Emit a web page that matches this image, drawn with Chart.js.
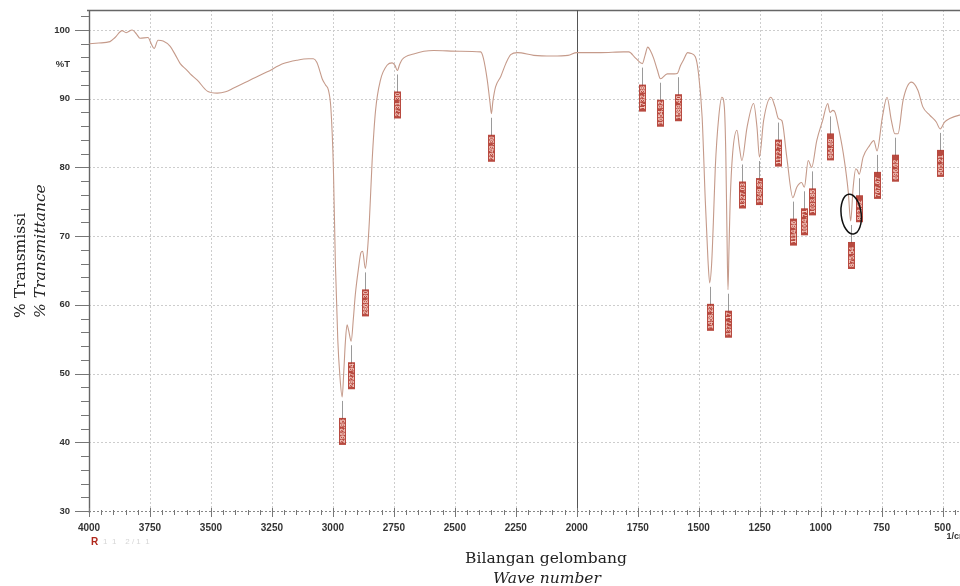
<!DOCTYPE html>
<html>
<head>
<meta charset="utf-8">
<script src="https://cdn.jsdelivr.net/npm/chart.js@4"></script>
<style>
  html, body { margin: 0; padding: 0; background: #fff; overflow: hidden; }
  #wrap { width: 1000px; height: 586px; }
</style>
</head>
<body>
<div id="wrap"><canvas id="ir" width="1000" height="586"></canvas></div>
<script>
"use strict";

// spectrum trace (wavenumber in 1/cm, %T)
const wavenumber = [
  3998, 3960, 3914, 3893, 3864, 3848, 3823, 3805, 3791, 3758, 3745, 3733, 3717, 3696, 3667,
  3645, 3626, 3600, 3585, 3556, 3515, 3474, 3440, 3409, 3339, 3269, 3203, 3146, 3100, 3080,
  3066, 3056, 3044, 3030, 3018, 3008, 2998, 2990, 2980, 2972, 2962, 2955, 2949, 2942, 2935,
  2925, 2916, 2908, 2895, 2885, 2878, 2867, 2858, 2850, 2839, 2825, 2805, 2777, 2757, 2745,
  2736, 2726, 2716, 2669, 2587, 2480, 2394, 2383, 2367, 2356, 2350, 2344, 2333, 2312, 2291,
  2271, 2243, 2176, 2100, 2036, 2000, 1902, 1808, 1787, 1759, 1731, 1720, 1709, 1697, 1685,
  1670, 1657, 1629, 1600, 1587, 1575, 1563, 1545, 1534, 1514, 1501, 1486, 1473, 1462, 1455,
  1447, 1440, 1432, 1418, 1405, 1395, 1389, 1384, 1380, 1376, 1371, 1361, 1343, 1333, 1323,
  1302, 1275, 1261, 1251, 1234, 1204, 1187, 1173, 1159, 1139, 1114, 1098, 1078, 1067, 1051,
  1037, 1016, 992, 971, 962, 950, 941, 928, 907, 887, 877, 867, 856, 850, 842,
  826, 799, 782, 769, 747, 728, 710, 696, 683, 662, 628, 601, 581, 553, 526,
  510, 492, 471, 431, 400,
];
const transmittance = [
  98.0, 98.1, 98.3, 98.9, 99.9, 99.6, 100.0, 99.4, 98.8, 98.9, 98.0, 97.3, 98.5, 98.4, 97.6,
  96.3, 95.1, 94.2, 93.6, 92.7, 91.1, 90.8, 91.0, 91.5, 92.7, 93.9, 95.1, 95.6, 95.8, 95.8,
  95.3, 94.3, 92.9, 92.0, 91.2, 88.5, 80.0, 66.3, 55.0, 50.0, 46.6, 50.5, 54.5, 57.1, 56.2,
  54.7, 58.0, 61.5, 65.3, 67.6, 67.8, 65.3, 68.0, 72.5, 81.0, 88.3, 92.7, 94.9, 95.2, 94.8,
  94.1, 95.0, 95.7, 96.5, 97.0, 96.9, 96.8, 95.9, 92.7, 89.5, 87.8, 89.6, 91.7, 93.2, 95.1,
  96.4, 96.7, 96.3, 96.2, 96.3, 96.7, 96.7, 96.8, 96.8, 95.9, 95.1, 96.3, 97.5, 96.9, 95.9,
  94.2, 92.9, 93.6, 93.6, 93.7, 94.8, 95.6, 96.7, 96.6, 96.1, 93.7, 87.3, 75.1, 66.5, 63.2,
  66.0, 72.0, 80.0, 87.3, 90.2, 88.8, 82.0, 70.0, 62.2, 68.0, 75.1, 82.0, 85.4, 82.9, 81.0,
  85.8, 89.3, 85.8, 81.5, 86.8, 90.2, 88.8, 87.1, 86.8, 81.5, 75.6, 77.1, 77.8, 77.1, 81.0,
  80.0, 83.9, 86.8, 89.3, 88.0, 88.3, 88.0, 86.0, 82.0, 76.5, 72.2, 77.0, 79.8, 79.6, 79.0,
  81.5, 83.2, 83.9, 82.4, 87.3, 90.2, 86.8, 84.9, 84.9, 89.8, 92.4, 91.2, 88.8, 87.6, 86.6,
  85.6, 86.6, 87.1, 87.6, 87.7,
];

// picked peaks: where the label hangs, and what it says
const peakWavenumber = [2962, 2925, 2867, 2736, 2350, 1731, 1657, 1587, 1455, 1380, 1323,
  1251, 1173, 1114, 1067, 1037, 962, 877, 842, 769, 696, 510];
const peakT = [46.6, 54.7, 65.3, 94.1, 87.8, 95.1, 92.9, 93.7, 63.2, 62.2, 81.0,
  81.5, 87.1, 75.6, 77.1, 80.0, 88.0, 72.2, 79.0, 82.4, 84.9, 85.6];
const peakText = ["2962.95", "2927.94", "2868.30", "2731.30", "2349.30", "1732.38", "1654.92",
  "1589.40", "1458.23", "1377.17", "1327.03", "1249.87", "1172.72", "1114.86", "1064.71",
  "1033.85", "964.69", "875.54", "842.92", "767.67", "696.62", "505.21"];

const xTicks = [4000, 3750, 3500, 3250, 3000, 2750, 2500, 2250, 2000, 1750, 1500, 1250, 1000, 750, 500];
const yTicks = [30, 40, 50, 60, 70, 80, 90, 95, 100];
const yTickText = ["30", "40", "50", "60", "70", "80", "90", "%T", "100"];

const circled = { w: 875, t: 73.2 };

const TICK_FONT = "'Liberation Sans', Arial, sans-serif";
const SERIF = "'DejaVu Serif', serif";

function hline(ctx, x1, x2, y) { ctx.beginPath(); ctx.moveTo(x1, y); ctx.lineTo(x2, y); ctx.stroke(); }
function vline(ctx, x, y1, y2) { ctx.beginPath(); ctx.moveTo(x, y1); ctx.lineTo(x, y2); ctx.stroke(); }

const framePlugin = {
  id: "frame",
  beforeDatasetsDraw(chart) {
    const { ctx, chartArea: a, scales: { x, y } } = chart;
    ctx.save();
    ctx.lineWidth = 1;

    // dotted grid
    ctx.strokeStyle = "#cdcdcd";
    ctx.setLineDash([2, 2]);
    yTicks.forEach((v) => {
      if (v % 10 !== 0 || v === 30) return;
      hline(ctx, a.left, a.right, Math.round(y.getPixelForValue(v)) + 0.5);
    });
    xTicks.forEach((v) => {
      if (v === 4000 || v === 2000) return;
      vline(ctx, Math.round(x.getPixelForValue(v)) + 0.5, a.top, a.bottom);
    });

    // bottom axis, dotted
    ctx.strokeStyle = "#888";
    hline(ctx, a.left, a.right, Math.round(a.bottom) + 0.5);
    ctx.setLineDash([]);

    // frame: top and left, plus the split at 2000
    ctx.strokeStyle = "#666";
    ctx.lineWidth = 1.4;
    hline(ctx, a.left - 2, a.right, a.top + 0.5);
    vline(ctx, a.left + 0.5, a.top, a.bottom + 2);
    ctx.lineWidth = 1;
    ctx.strokeStyle = "#555";
    vline(ctx, Math.round(x.getPixelForValue(2000)) + 0.5, a.top, a.bottom + 4);

    // x ticks every 50, longer at 250
    ctx.strokeStyle = "#777";
    for (let w = 4000; w >= 400; w -= 50) {
      const px = Math.round(x.getPixelForValue(w)) + 0.5;
      if (w % 250 === 0) vline(ctx, px, a.bottom - 3, a.bottom + 6);
      else vline(ctx, px, a.bottom - 1, a.bottom + 4);
    }
    // y ticks every 2, longer at 10
    for (let t = 30; t <= 102; t += 2) {
      const py = Math.round(y.getPixelForValue(t)) + 0.5;
      hline(ctx, t % 10 === 0 ? a.left - 14 : a.left - 8, a.left, py);
    }
    ctx.restore();
  },
  afterDatasetsDraw(chart) {
    const { ctx, scales: { x, y } } = chart;
    ctx.save();
    peakWavenumber.forEach((w, i) => {
      const px = Math.round(x.getPixelForValue(w)) + 0.5;
      const py = y.getPixelForValue(peakT[i]);
      ctx.strokeStyle = "#9a9a9a";
      ctx.lineWidth = 1;
      vline(ctx, px, py + 4, py + 22);
      // red label box, text reading upward
      ctx.fillStyle = "rgba(172,42,30,0.85)";
      ctx.fillRect(px - 3.5, py + 21, 7, 27);
      ctx.save();
      ctx.translate(px + 2.5, py + 46);
      ctx.rotate(-Math.PI / 2);
      ctx.fillStyle = "rgba(255,225,215,0.85)";
      ctx.font = "bold 6.5px " + TICK_FONT;
      ctx.textAlign = "left";
      ctx.textBaseline = "alphabetic";
      ctx.fillText(peakText[i], 0, 0);
      ctx.restore();
    });

    // hand-drawn circle round the 875 band
    ctx.strokeStyle = "#111";
    ctx.lineWidth = 1.5;
    ctx.beginPath();
    ctx.ellipse(x.getPixelForValue(circled.w), y.getPixelForValue(circled.t), 10, 20, -0.12, 0, Math.PI * 2);
    ctx.stroke();
    ctx.restore();
  },
  afterDraw(chart) {
    const { ctx, chartArea: a, scales: { x } } = chart;
    ctx.save();
    ctx.fillStyle = "#222";
    ctx.font = "15.5px " + SERIF;
    ctx.textAlign = "center";
    ctx.textBaseline = "alphabetic";
    ctx.fillText("Bilangan gelombang", 546, 563);
    ctx.font = "italic 15.5px " + SERIF;
    ctx.fillText("Wave number", 547, 583);

    ctx.save();
    ctx.translate(25, 318);
    ctx.rotate(-Math.PI / 2);
    ctx.textAlign = "left";
    ctx.font = "15.5px " + SERIF;
    ctx.fillText("% Transmissi", 0, 0);
    ctx.font = "italic 15.5px " + SERIF;
    ctx.fillText("% Transmittance", 0, 20);
    ctx.restore();

    ctx.font = "bold 9px " + TICK_FONT;
    ctx.fillStyle = "#333";
    ctx.textAlign = "left";
    ctx.fillText("1/cm", x.getPixelForValue(500) + 4, a.bottom + 28);

    ctx.fillStyle = "#b0281c";
    ctx.font = "bold 10px " + TICK_FONT;
    ctx.fillText("R", a.left + 2, a.bottom + 34);
    ctx.fillStyle = "#d6d6d6";
    ctx.font = "8px " + TICK_FONT;
    ctx.fillText("1  1    2 / 1  1", a.left + 14, a.bottom + 33);
    ctx.restore();
  },
};

new Chart(document.getElementById("ir"), {
  type: "line",
  data: {
    datasets: [{
      data: wavenumber.map((w, i) => ({ x: w, y: transmittance[i] })),
      borderColor: "#c59a8a",
      borderWidth: 1.1,
      pointRadius: 0,
      cubicInterpolationMode: "monotone",
      fill: false,
    }],
  },
  options: {
    responsive: false,
    animation: false,
    devicePixelRatio: 1,
    layout: { padding: { left: 0, top: 10, right: 33, bottom: 0 } },
    plugins: { legend: { display: false }, tooltip: { enabled: false } },
    scales: {
      x: {
        type: "linear",
        reverse: true,
        min: 400,
        max: 4000,
        afterBuildTicks: (s) => { s.ticks = xTicks.map((v) => ({ value: v })); },
        afterFit: (s) => {
          s.height = 75;
          s.paddingLeft = 0; s.paddingRight = 0;
        },
        grid: { display: false, drawTicks: false },
        border: { display: false },
        ticks: {
          autoSkip: false,
          maxRotation: 0,
          padding: 11,
          color: "#333",
          font: { family: TICK_FONT, size: 10, weight: "bold" },
          callback: (v) => String(v),
        },
      },
      y: {
        min: 30,
        max: 102.9,
        afterBuildTicks: (s) => { s.ticks = yTicks.map((v) => ({ value: v })); },
        afterFit: (s) => {
          s.width = 89;
          s.paddingTop = 0; s.paddingBottom = 0;
        },
        grid: { display: false, drawTicks: false },
        border: { display: false },
        ticks: {
          autoSkip: false,
          padding: 19,
          color: "#333",
          font: { family: TICK_FONT, size: 9.5, weight: "bold" },
          callback: (v) => yTickText[yTicks.indexOf(v)] ?? "",
        },
      },
    },
  },
  plugins: [framePlugin],
});
</script>
</body>
</html>
